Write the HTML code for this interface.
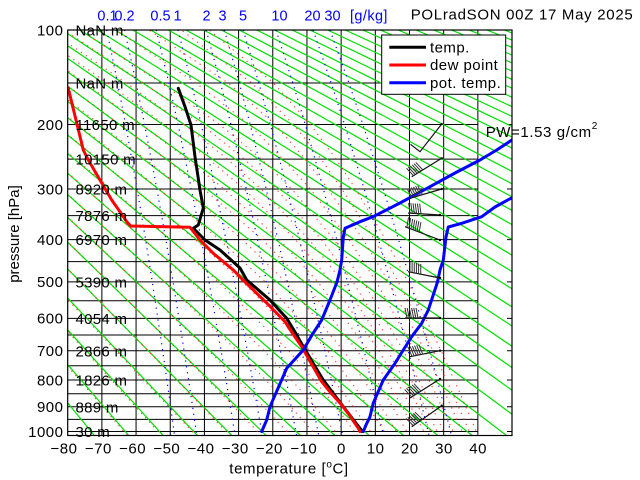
<!DOCTYPE html>
<html><head><meta charset="utf-8"><style>
html,body{margin:0;padding:0;background:#fff;overflow:hidden}
svg{display:block}
text{font-family:"Liberation Sans",Arial,Helvetica,sans-serif;}
</style></head><body>
<svg width="640" height="480" viewBox="0 0 640 480" xmlns="http://www.w3.org/2000/svg">
<defs><clipPath id="c"><rect x="67.7" y="30" width="444.3" height="405.5"/></clipPath></defs>
<rect width="640" height="480" fill="#fff"/>
<!-- grid -->
<path fill="none" stroke="#000" stroke-width="1" d="M101.88 30V435.5M136.06 30V435.5M170.24 30V435.5M204.42 30V435.5M238.6 30V435.5M272.78 30V435.5M306.96 30V435.5M341.14 30V435.5M375.32 30V435.5M409.5 30V435.5M443.68 30V435.5M477.86 30V435.5
M67.7 82.96H477.86M67.7 124.46H477.86M67.7 159.08H477.86M67.7 189.05H477.86M67.7 215.63H477.86M67.7 239.63H477.86M67.7 261.57H477.86M67.7 281.84H477.86M67.7 300.7H477.86M67.7 318.38H477.86M67.7 335.04H477.86M67.7 350.8H477.86M67.7 365.78H477.86M67.7 380.06H477.86M67.7 393.72H477.86M67.7 406.81H477.86M67.7 419.4H477.86M67.7 431.49H477.86
M507 124.46H512M507 189.05H512M507 239.63H512M507 281.84H512M507 318.38H512M507 350.8H512M507 380.06H512M507 406.81H512M507 431.49H512"/>
<g clip-path="url(#c)">
<!-- dry adiabats -->
<path fill="none" stroke="#00e000" stroke-width="1.2" d="M-238.63 30L94.41 435.5M-220.94 30L128.76 435.5M-203.25 30L163.1 435.5M-185.56 30L197.45 435.5M-167.86 30L231.79 435.5M-150.17 30L266.14 435.5M-132.48 30L300.48 435.5M-114.78 30L334.83 435.5M-97.09 30L369.17 435.5M-79.4 30L403.52 435.5M-61.71 30L437.86 435.5M-44.01 30L472.21 435.5M-26.32 30L506.55 435.5M-8.63 30L540.9 435.5M9.06 30L575.24 435.5M26.76 30L609.59 435.5M44.45 30L643.93 435.5M62.14 30L678.28 435.5M79.84 30L712.62 435.5M97.53 30L746.97 435.5M115.22 30L781.31 435.5M132.91 30L815.66 435.5M150.61 30L850 435.5M168.3 30L884.35 435.5M185.99 30L918.69 435.5M203.68 30L953.04 435.5M221.38 30L987.38 435.5M239.07 30L1021.73 435.5M256.76 30L1056.07 435.5M274.46 30L1090.42 435.5M292.15 30L1124.76 435.5M309.84 30L1159.11 435.5M327.53 30L1193.45 435.5M345.23 30L1227.8 435.5M362.92 30L1262.14 435.5M380.61 30L1296.49 435.5M398.3 30L1330.83 435.5M416 30L1365.18 435.5M433.69 30L1399.52 435.5M451.38 30L1433.87 435.5M469.07 30L1468.21 435.5M486.77 30L1502.56 435.5M504.46 30L1536.93 435.5"/>
<!-- moist adiabats (red dotted) -->
<g fill="none" stroke="#ff2020" stroke-width="1.2" stroke-dasharray="1.2 4.8" stroke-opacity="0.85">
<polyline points="-222.4,30 127.3,435.5"/>
<polyline points="-204.75,30 161.6,435.5"/>
<polyline points="-187.06,30 195.95,435.5"/>
<polyline points="230.1,436 225.88,431.49 189.89,393.72 148.06,350.8 80.45,281.84 38.85,239.63"/>
<polyline points="261.8,436 257.47,431.49 221.44,393.72 178.72,350.8 108.58,281.84 65.34,239.63 13.2,189.05"/>
<polyline points="290.8,436 286.62,431.49 251.45,393.72 208.73,350.8 136.67,281.84 91.8,239.63 37.79,189.05"/>
<polyline points="316.6,436 312.6,431.49 279.1,393.72 237.23,350.8 164.16,281.84 117.84,239.63 61.92,189.05"/>
<polyline points="338.8,436 335.12,431.49 304.02,393.72 264.13,350.8 191.23,281.84 143.99,239.63 86.16,189.05 51.64,159.08"/>
<polyline points="357.8,436 354.37,431.49 325.69,393.72 288.61,350.8 218.37,281.84 170.86,239.63 111.45,189.05 75.8,159.08 33,124.46"/>
<polyline points="373.7,436 370.57,431.49 344.11,393.72 309.8,350.8 242.73,281.84 195.23,239.63 134.45,189.05 97.88,159.08 55.16,124.46"/>
<polyline points="387.2,436 384.31,431.49 359.63,393.72 327.81,350.8 265.19,281.84 219.53,239.63 159.16,189.05 121.84,159.08 77.89,124.46 25.04,82.96"/>
<polyline points="399.1,436 396.31,431.49 373.16,393.72 343.57,350.8 285.6,281.84 242.39,239.63 183.09,189.05 145.19,159.08 100.17,124.46 45.65,82.96"/>
<polyline points="409.4,436 406.77,431.49 384.96,393.72 357.31,350.8 303.4,281.84 262.32,239.63 203.98,189.05 165.52,159.08 119.58,124.46 63.63,82.96"/>
<polyline points="418.1,436 415.58,431.49 394.73,393.72 368.48,350.8 317.87,281.84 279.38,239.63 224.11,189.05 186.95,159.08 141.53,124.46 84.82,82.96 10.86,30"/>
<polyline points="426.2,436 423.86,431.49 403.82,393.72 378.77,350.8 331.23,281.84 295.48,239.63 244.03,189.05 208.86,159.08 164.5,124.46 107.31,82.96 31.2,30"/>
<polyline points="433.2,436 430.86,431.49 411.52,393.72 387.52,350.8 342.54,281.84 309.11,239.63 260.92,189.05 227.39,159.08 183.98,124.46 126.32,82.96 48.42,30"/>
<polyline points="439.4,436 437.22,431.49 418.49,393.72 395.45,350.8 352.79,281.84 321.49,239.63 276.27,189.05 244.24,159.08 201.62,124.46 143.61,82.96 64.04,30"/>
<polyline points="445.8,436 443.68,431.49 425.6,393.72 403.48,350.8 363.22,281.84 334.06,239.63 291.82,189.05 261.33,159.08 219.56,124.46 161.15,82.96 79.9,30"/>
<polyline points="455.3,436 453.18,431.49 435.65,393.72 414.42,350.8 376.21,281.84 349.04,239.63 310.38,189.05 282.93,159.08 249.54,124.46 195.88,82.96 115.55,30"/>
<polyline points="464.3,436 462.24,431.49 445.25,393.72 424.88,350.8 388.58,281.84 363.29,239.63 328.05,189.05 305.25,159.08 275.17,124.46 228,82.96 148.95,30"/>
<polyline points="471.3,436 469.32,431.49 452.73,393.72 433.02,350.8 398.25,281.84 374.43,239.63 341.89,189.05 320.97,159.08 293.63,124.46 251.59,82.96 181.21,30"/>
<polyline points="478.3,436 476.39,431.49 460.22,393.72 441.14,350.8 407.92,281.84 385.57,239.63 355.7,189.05 336.01,159.08 310.38,124.46 273.46,82.96 209.07,30"/>
</g>
<!-- mixing ratio (blue dotted) -->
<g fill="none" stroke="#0000ff" stroke-width="1.2" stroke-dasharray="1.2 4.8">
<polyline points="106.73,30 117.61,82.96 125.57,124.46 137.13,189.05 145.58,239.63 152.29,281.84 162.68,350.8 168.81,393.72 174.04,431.49 174.58,435.5"/>
<polyline points="124.56,30 136.12,82.96 144.57,124.46 156.87,189.05 165.88,239.63 173.03,281.84 184.11,350.8 190.66,393.72 196.24,431.49 196.82,435.5"/>
<polyline points="156.27,30 168.83,82.96 178.02,124.46 191.4,189.05 201.22,239.63 209.03,281.84 221.13,350.8 228.29,393.72 234.4,431.49 235.04,435.5"/>
<polyline points="177.99,30 191.37,82.96 201.19,124.46 215.5,189.05 226.01,239.63 234.37,281.84 247.34,350.8 255.03,393.72 261.6,431.49 262.29,435.5"/>
<polyline points="206.14,30 220.44,82.96 230.95,124.46 246.28,189.05 257.55,239.63 266.53,281.84 280.47,350.8 288.75,393.72 295.81,431.49 296.55,435.5"/>
<polyline points="224.39,30 239.28,82.96 250.22,124.46 266.2,189.05 277.96,239.63 287.32,281.84 301.88,350.8 310.53,393.72 317.91,431.49 318.68,435.5"/>
<polyline points="243.13,30 258.8,82.96 270.33,124.46 287.19,189.05 299.6,239.63 309.5,281.84 324.89,350.8 334.04,393.72 341.86,431.49 342.68,435.5"/>
<polyline points="276.01,30 292.85,82.96 305.25,124.46 323.4,189.05 336.79,239.63 347.48,281.84 364.12,350.8 374.03,393.72 382.49,431.49 383.38,435.5"/>
<polyline points="313.06,30 331.18,82.96 344.55,124.46 364.13,189.05 378.6,239.63 390.17,281.84 408.2,350.8 418.95,393.72 428.14,431.49 429.1,435.5"/>
<polyline points="329.98,30 348.91,82.96 362.87,124.46 383.37,189.05 398.52,239.63 410.64,281.84 429.55,350.8 440.83,393.72 450.49,431.49 451.5,435.5"/>
</g>
<!-- data -->
<g fill="none" stroke-width="3" stroke-linejoin="round" stroke-linecap="round">
<polyline stroke="#000" points="178.3,88.3 185,106.7 191,125 195,156.7 200,190 203.3,208 198.3,225 193.3,228.3 205,240 220,250 240,268 246.7,280 270,300 286.7,318.3 295,332 303.3,346.7 313,363 323.3,380 333,393 343.3,406.7 352,418 360,428.3 362,431.5"/>
<polyline stroke="#f00" points="68.3,88.3 76,120 83.3,150 88.3,160 100,180 111.7,200 120,211.7 126.7,221.7 130.7,226 190,227.3 200,240 213.3,253.3 233.3,270 243,280 266.7,303 285,321.7 293,334 301.7,346.7 311,363 321.7,381.7 331,393 341.7,405 350,416 358.3,428.3 360,431.5"/>
<polyline stroke="#00f" points="261.7,431.5 266.7,420 270,406.7 281.6,380 286.7,368.3 303.3,350 312,335 321.7,320 330,300 337,282 340,270 341.7,260 343.3,237 345,228.3 360,221.7 373,216.7 400,203 430,186.7 455,173 480,160 496.7,150 515,138"/>
<polyline stroke="#00f" points="363.3,431.5 366,425 370,416.7 373.3,403 383.3,380 395,363.3 403.3,350 411.7,336.7 421.7,323.3 428.3,310 437.5,282 440,270 443.3,260 446,237 448.3,227 461.7,223.3 481.7,216.7 495,207 515,196"/>
</g>
</g>
<!-- wind barbs -->
<g fill="none" stroke="#111" stroke-width="1.2">
<path d="M441.7 124L420 151.7L410.55 144.3M441.7 158.3L411.7 176.7M441.7 189L410 198.3M440 215L408 213M440 240L405 226.7M440 278L408 271.7M440 318L405 318M440 350.7L410 356.7M440 379L410 398M441.7 405.7L411.7 426.7"/>
</g>
<g fill="none" stroke="#333" stroke-width="1">
<path d="M413.41 175.65L406.48 168.17M415.28 174.5L408.35 167.02M417.16 173.35L410.23 165.87M419.03 172.2L412.1 164.72M420.91 171.05L413.98 163.57M422.78 169.9L415.85 162.42
M411.92 197.74L407.19 188.71M414.03 197.12L409.3 188.09M416.14 196.5L411.41 187.47M418.25 195.88L413.52 186.85M420.36 195.26L415.63 186.23M422.47 194.64L417.74 185.61
M410 213.12L408.63 203.02M412.19 213.26L410.82 203.16M414.39 213.4L413.02 203.3M416.58 213.54L415.21 203.44M418.78 213.67L417.41 203.57M420.97 213.81L419.6 203.71
M406.87 227.41L408.55 217.35M408.93 228.19L410.61 218.13M410.98 228.97L412.66 218.91M413.04 229.75L414.72 219.69M415.1 230.54L416.78 220.48M417.15 231.32L418.83 221.26M419.21 232.1L420.89 222.04
M409.96 272.09L409.93 261.89M412.12 272.51L412.09 262.31M414.28 272.94L414.25 262.74M416.44 273.36L416.41 263.16M418.6 273.79L418.57 263.59M420.76 274.21L420.73 264.01
M407 318L405 308M409.2 318L407.2 308M411.4 318L409.4 308M413.6 318L411.6 308M415.8 318L413.8 308M418 318L416 308
M411.96 356.31L408.04 346.9M414.12 355.88L410.2 346.47M416.28 355.45L412.36 346.04M418.43 355.01L414.51 345.6M420.59 354.58L416.67 345.17M422.75 354.15L418.83 344.74
M411.69 396.93L404.65 389.55M413.55 395.75L406.51 388.37M415.41 394.58L408.37 387.2M417.27 393.4L410.23 386.02M419.12 392.22L412.08 384.84M420.98 391.04L413.94 383.66
M413.34 425.55L405.97 418.51M415.14 424.29L407.77 417.25M416.94 423.03L409.57 415.99M418.75 421.77L411.38 414.73M420.55 420.51L413.18 413.47M422.35 419.24L414.98 412.2"/>
</g>
<g fill="#000">
<circle cx="441.7" cy="124" r="1.2"/><circle cx="441.7" cy="158.3" r="1.2"/><circle cx="441.7" cy="189" r="1.2"/><circle cx="440" cy="215" r="1.2"/><circle cx="440" cy="240" r="1.2"/><circle cx="440" cy="278" r="1.2"/><circle cx="440" cy="318" r="1.2"/><circle cx="440" cy="350.7" r="1.2"/><circle cx="440" cy="379" r="1.2"/><circle cx="441.7" cy="405.7" r="1.2"/>
</g>
<!-- axes box -->
<rect x="67.7" y="30" width="444.3" height="405.5" fill="none" stroke="#000" stroke-width="1.2"/>
<!-- height labels -->
<g font-size="15" fill="#000" letter-spacing="0.3">
<text x="75.5" y="35.5">NaN m</text>
<text x="75.5" y="88.5">NaN m</text>
<text x="75.5" y="130">11650 m</text>
<text x="75.5" y="164.6">10150 m</text>
<text x="75.5" y="194.6">8920 m</text>
<text x="75.5" y="221.1">7876 m</text>
<text x="75.5" y="245.1">6970 m</text>
<text x="75.5" y="287.3">5390 m</text>
<text x="75.5" y="323.9">4054 m</text>
<text x="75.5" y="356.3">2866 m</text>
<text x="75.5" y="385.6">1826 m</text>
<text x="75.5" y="412.3">889 m</text>
<text x="75.5" y="437">30 m</text>
</g>
<!-- y tick labels -->
<g font-size="15" text-anchor="end" letter-spacing="0.5">
<text x="63.5" y="35.3">100</text>
<text x="63.5" y="129.8">200</text>
<text x="63.5" y="194.4">300</text>
<text x="63.5" y="245">400</text>
<text x="63.5" y="287.2">500</text>
<text x="63.5" y="323.7">600</text>
<text x="63.5" y="356.1">700</text>
<text x="63.5" y="385.4">800</text>
<text x="63.5" y="412.1">900</text>
<text x="63.5" y="436.8">1000</text>
</g>
<!-- x tick labels -->
<g font-size="15" text-anchor="middle" letter-spacing="0.5">
<text x="64" y="453.3">−80</text>
<text x="98.4" y="453.3">−70</text>
<text x="132.6" y="453.3">−60</text>
<text x="166.8" y="453.3">−50</text>
<text x="201" y="453.3">−40</text>
<text x="235.2" y="453.3">−30</text>
<text x="269.4" y="453.3">−20</text>
<text x="303.8" y="453.3">−10</text>
<text x="341.4" y="453.3">0</text>
<text x="375.6" y="453.3">10</text>
<text x="409.8" y="453.3">20</text>
<text x="444" y="453.3">30</text>
<text x="478.1" y="453.3">40</text>
</g>
<text x="289" y="473.5" font-size="15" text-anchor="middle" letter-spacing="0.6">temperature [<tspan font-size="10" dy="-6">o</tspan><tspan dy="6">C]</tspan></text>
<text transform="translate(19,234) rotate(-90)" font-size="15" text-anchor="middle">pressure [hPa]</text>
<!-- mixing ratio labels -->
<g font-size="14.5" fill="#0000ff" text-anchor="middle">
<text x="107.5" y="20.3">0.1</text>
<text x="124.5" y="20.3">0.2</text>
<text x="160.5" y="20.3">0.5</text>
<text x="177.5" y="20.3">1</text>
<text x="206.5" y="20.3">2</text>
<text x="222.5" y="20.3">3</text>
<text x="243" y="20.3">5</text>
<text x="279.5" y="20.3">10</text>
<text x="312.5" y="20.3">20</text>
<text x="332.5" y="20.3">30</text>
<text x="350" y="20.3" text-anchor="start" letter-spacing="0.4">[g/kg]</text>
</g>
<text x="410.7" y="19.3" font-size="15" textLength="222" lengthAdjust="spacing">POLradSON 00Z 17 May 2025</text>
<text x="485.7" y="137" font-size="15" letter-spacing="0.6">PW=1.53 g/cm<tspan font-size="10" dy="-8">2</tspan></text>
<!-- legend -->
<rect x="381.7" y="35" width="124" height="59.3" fill="#fff" stroke="#000" stroke-width="1"/>
<line x1="389.3" y1="47.3" x2="426" y2="47.3" stroke="#000" stroke-width="3"/>
<line x1="389.3" y1="65" x2="426" y2="65" stroke="#f00" stroke-width="3"/>
<line x1="389.3" y1="82.7" x2="426" y2="82.7" stroke="#00f" stroke-width="3"/>
<g font-size="15" letter-spacing="0.45">
<text x="430" y="52.5">temp.</text>
<text x="430" y="70.2">dew point</text>
<text x="430" y="87.9">pot. temp.</text>
</g>
</svg>
</body></html>
